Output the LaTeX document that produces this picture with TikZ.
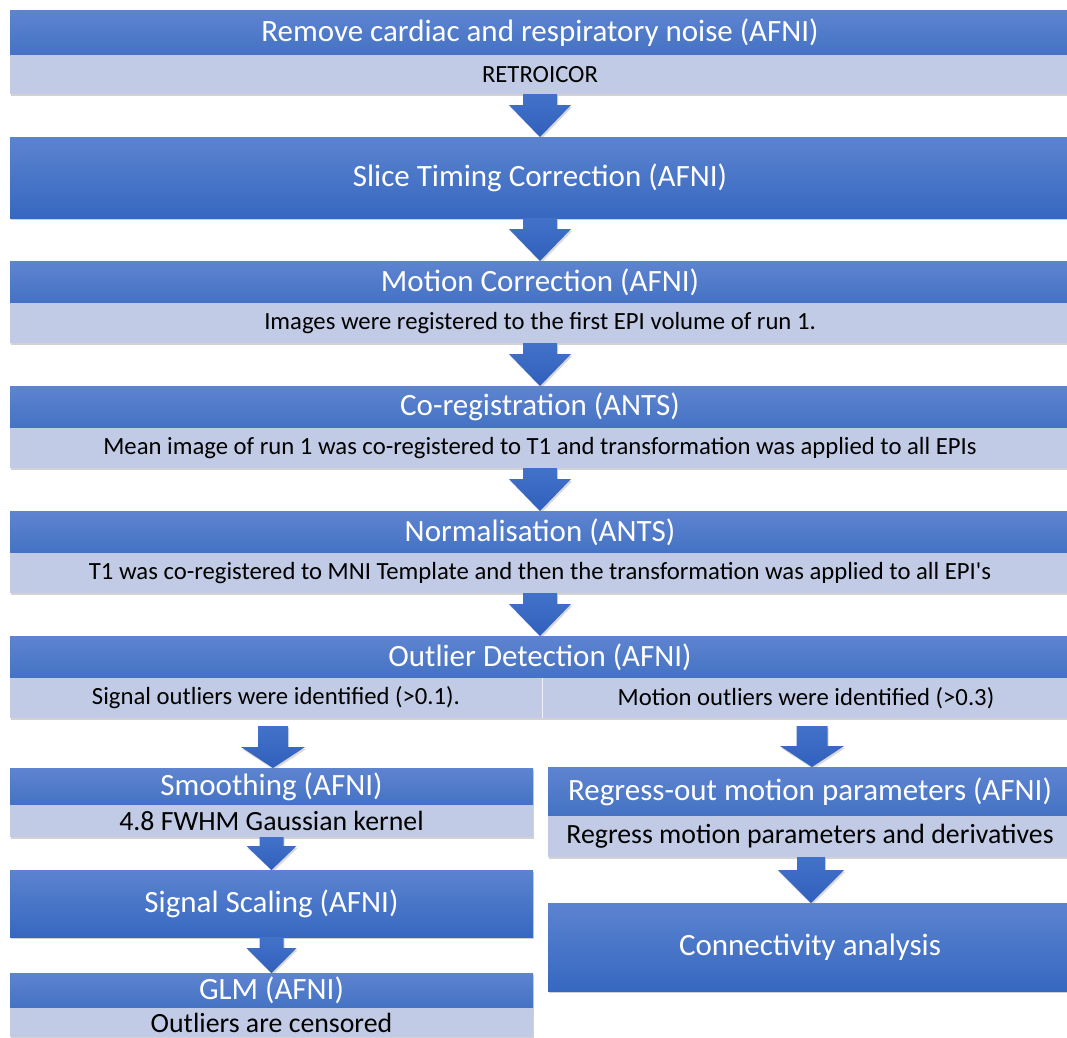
\documentclass[tikz,border=0pt]{standalone}
\usepackage{fontspec}
\setmainfont{Carlito}
\usetikzlibrary{calc,shadows}
\definecolor{htop}{RGB}{94,132,208}
\definecolor{hbot}{RGB}{68,114,196}
\definecolor{btop}{RGB}{92,131,208}
\definecolor{bbot}{RGB}{54,104,192}
\definecolor{atop}{RGB}{66,114,200}
\definecolor{abot}{RGB}{48,96,188}
\definecolor{subfill}{RGB}{193,203,229}
\tikzset{
  boxbase/.style={rectangle, anchor=north west, inner sep=0pt, outer sep=0pt,
    drop shadow={shadow xshift=1.2pt, shadow yshift=-2.2pt, opacity=0.35}},
  hdr/.style={boxbase, top color=htop, bottom color=hbot, text=white,
    font=\fontsize{31}{36}\selectfont},
  bigbox/.style={boxbase, top color=btop, bottom color=bbot, text=white,
    font=\fontsize{31}{36}\selectfont},
  subbox/.style={boxbase, fill=subfill, text=black, font=\fontsize{24.7}{28}\selectfont},
  subbig/.style={subbox, font=\fontsize{27.8}{31}\selectfont},
  blockarrow/.style={top color=atop, bottom color=abot, draw=none,
    drop shadow={shadow xshift=1.2pt, shadow yshift=-2pt, opacity=0.3}},
  divider/.style={draw=white!75!subfill, line width=0.8pt}
}
% #1 from, #2 to, #3 x centre, #4 shaft half width, #5 head half width, #6 head length, #7 gap at top
\newcommand\blockarr[7]{%
  \path[blockarrow] let \p1=(#1.south), \p2=(#2.north) in
    (#3-#4,\y1-#7) -- (#3+#4,\y1-#7) -- (#3+#4,\y2+#6) -- (#3+#5,\y2+#6)
    -- (#3,\y2) -- (#3-#5,\y2+#6) -- (#3-#4,\y2+#6) -- cycle;}
\begin{document}
\begin{tikzpicture}[x=1pt,y=1pt]
\useasboundingbox (0,0) rectangle (1067,-1037);
\clip (0,0) rectangle (1067,-1037);
\fill[white] (0,0) rectangle (1067,-1037);

% main column
\node[hdr, minimum width=1060, minimum height=45] (h1) at (10,-10) {Remove cardiac and respiratory noise (AFNI)};
\node[subbox, minimum width=1060, minimum height=39] (s1) at (10,-55) {RETROICOR};

\node[bigbox, minimum width=1060, minimum height=81] (b2) at (10,-137) {Slice Timing Correction (AFNI)};

\node[hdr, minimum width=1060, minimum height=42] (h3) at (10,-261) {Motion Correction (AFNI)};
\node[subbox, minimum width=1060, minimum height=40] (s3) at (10,-303) {Images were registered to the first EPI volume of run 1.};

\node[hdr, minimum width=1060, minimum height=42] (h4) at (10,-386) {Co-registration (ANTS)};
\node[subbox, minimum width=1060, minimum height=40] (s4) at (10,-428) {Mean image of run 1 was co-registered to T1 and transformation was applied to all EPIs};

\node[hdr, minimum width=1060, minimum height=42] (h5) at (10,-511) {Normalisation (ANTS)};
\node[subbox, minimum width=1060, minimum height=40] (s5) at (10,-553) {T1 was co-registered to MNI Template and then the transformation was applied to all EPI\textquotesingle s};

\node[hdr, minimum width=1060, minimum height=42] (h6) at (10,-636) {Outlier Detection (AFNI)};
\node[subbox, minimum width=532, minimum height=40] (s6l) at (10,-678) {Signal outliers were identified (>0.1).};
\node[subbox, minimum width=528, minimum height=40] (s6r) at (542,-678) {Motion outliers were identified (>0.3)};
\draw[divider] (s6l.north east) -- (s6l.south east);

% left column
\node[hdr, minimum width=523, minimum height=37] (h7) at (10,-768) {Smoothing (AFNI)};
\node[subbig, minimum width=523, minimum height=32] (s7) at (10,-805) {4.8 FWHM Gaussian kernel};
\node[bigbox, minimum width=523, minimum height=67] (b8) at (10,-870) {Signal Scaling (AFNI)};
\node[hdr, minimum width=523, minimum height=35] (h9) at (10,-973) {GLM (AFNI)};
\node[subbig, minimum width=523, minimum height=29] (s9) at (10,-1008) {Outliers are censored};

% right column
\node[hdr, minimum width=524, minimum height=49] (h10) at (548,-767) {Regress-out motion parameters (AFNI)};
\node[subbig, minimum width=524, minimum height=41] (s10) at (548,-816) {Regress motion parameters and derivatives};
\node[bigbox, minimum width=524, minimum height=88] (b11) at (548,-903) {Connectivity analysis};

% arrows
\blockarr{s1}{b2}{540}{17}{31}{32}{0}
\blockarr{b2}{h3}{540}{17}{31}{32}{0}
\blockarr{s3}{h4}{540}{17}{31}{32}{0}
\blockarr{s4}{h5}{540}{17}{31}{32}{0}
\blockarr{s5}{h6}{540}{17}{31}{32}{0}
\blockarr{s6l}{h7}{273}{15}{32}{21}{8}
\blockarr{s6r}{h10}{812}{15.5}{32}{21}{8}
\blockarr{s7}{b8}{271.5}{12}{25}{24}{0}
\blockarr{b8}{h9}{271.5}{12}{25}{25}{0}
\blockarr{s10}{b11}{811}{14}{33}{33}{0}
\end{tikzpicture}
\end{document}
